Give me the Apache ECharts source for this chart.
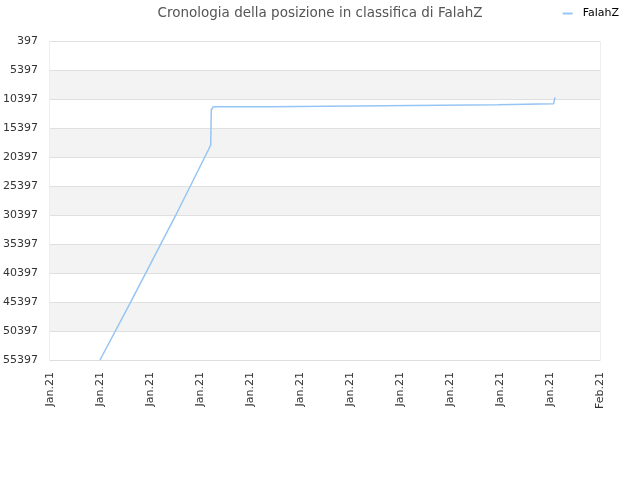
<!DOCTYPE html>
<html>
<head>
<meta charset="utf-8">
<script src="https://cdn.jsdelivr.net/npm/echarts@6/dist/echarts.min.js"></script>
<style>html,body{margin:0;padding:0;background:#fff}#c{width:640px;height:480px}</style>
</head>
<body>
<div id="c"></div>
<script>
var seriesName = 'FalahZ';
var xTickLabels = ['Jan.21','Jan.21','Jan.21','Jan.21','Jan.21','Jan.21','Jan.21','Jan.21','Jan.21','Jan.21','Jan.21','Feb.21'];
// x positions in tick units (0 = first tick, 11 = last tick)
var xPos = [1.0, 1.6, 2.5, 3.166, 3.214, 3.22, 3.226, 3.266, 4.39, 4.4, 6.67, 6.68, 8.95, 8.96, 10.07, 10.08, 10.1];
var ranks = [55397, 45611, 30654, 19135, 18271, 15500, 12227, 11657, 11657, 11484, 11484, 11311, 11311, 11160, 11160, 10800, 10034];

var data = xPos.map(function(x, i){ return [x, ranks[i]]; });

var chart = echarts.init(document.getElementById('c'));
chart.setOption({
  animation: false,
  textStyle: { fontFamily: 'DejaVu Sans' },
  title: {
    text: 'Cronologia della posizione in classifica di FalahZ',
    left: 'center', top: 1,
    textStyle: { fontSize: 13.5, fontWeight: 'normal', color: '#555', fontFamily: 'DejaVu Sans' }
  },
  legend: {
    data: [seriesName], right: 16, top: 3, itemWidth: 10, itemHeight: 2, itemGap: 10,
    icon: 'rect',
    textStyle: { fontSize: 11, color: '#000', fontFamily: 'DejaVu Sans', padding: [0, 0, 0, 5] }
  },
  grid: { left: 50, right: 40, top: 41.5, bottom: 120, show: true, borderColor: '#ddd', borderWidth: 1, containLabel: false },
  xAxis: {
    type: 'value', min: 0, max: 11, interval: 1,
    axisLine: { show: true, lineStyle: { color: '#ddd' } },
    axisTick: { show: false },
    splitLine: { show: false },
    axisLabel: {
      rotate: 90, color: '#333', fontSize: 11, margin: 12,
      formatter: function(v){ return xTickLabels[Math.round(v)]; }
    }
  },
  yAxis: {
    type: 'value', inverse: true, min: 397, max: 55397, interval: 5000,
    axisLine: { show: false }, axisTick: { show: false },
    axisLabel: { color: '#333', fontSize: 11, margin: 12, formatter: function(v){ return String(v); } },
    splitLine: { show: true, lineStyle: { color: '#e0e0e0' } },
    splitArea: { show: true, areaStyle: { color: ['#ffffff', '#f3f3f3'] } }
  },
  series: [{
    name: seriesName, type: 'line', data: data, showSymbol: false, symbol: 'none',
    lineStyle: { color: '#97c5f3', width: 1.5 }, itemStyle: { color: '#97c5f3' }
  }]
});
</script>
</body>
</html>
